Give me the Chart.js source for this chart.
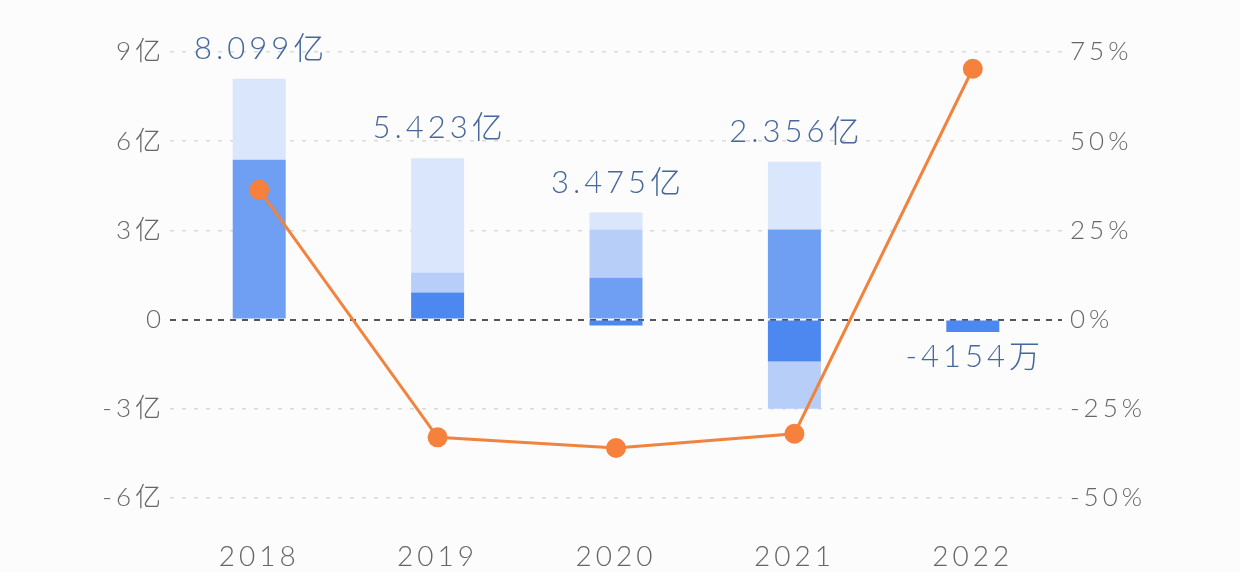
<!DOCTYPE html>
<html>
<head>
<meta charset="utf-8">
<script src="https://cdn.jsdelivr.net/npm/chart.js@4/dist/chart.umd.min.js"></script>
<style>
  html, body { margin: 0; padding: 0; background: #fcfcfd; }
  #wrap { width: 1240px; height: 572px; }
</style>
</head>
<body>
<div id="wrap"><canvas id="chart" width="1240" height="572"></canvas></div>
<script>
// 年份
const years = ["2018", "2019", "2020", "2021", "2022"];

// 各层柱段 [下沿, 上沿]，单位：亿
const paleSeg = [[5.38, 8.099], [1.58, 5.423], [3.03, 3.6], [3.03, 5.31], null];
const softSeg = [null, [0.91, 1.58], [1.41, 3.03], [-3.0, -1.41], null];
const midSeg  = [[0, 5.38], null, [0, 1.41], [0, 3.03], null];
const deepSeg = [null, [0, 0.91], [-0.2, 0], [-1.41, 0], [-0.4154, 0]];

// 同比增速（%），右轴
const growthPct = [36.4, -33.0, -36.0, -32.0, 70.3];

// 柱顶数值标签
const valueLabels = ["8.099亿", "5.423亿", "3.475亿", "2.356亿", "-4154万"];
const labelAt     = [8.099, 5.423, 3.6, 5.31, -0.4154];

const FONT = "Lato, Roboto, 'Noto Sans CJK SC', sans-serif";

// 数值标签插件
const valueLabelPlugin = {
  id: "valueLabels",
  afterDatasetsDraw(chart) {
    const ctx = chart.ctx;
    const xs = chart.scales.x;
    const ys = chart.scales.y;
    ctx.save();
    ctx.letterSpacing = "4px";
    ctx.font = "300 31px " + FONT;
    ctx.fillStyle = "#46679c";
    ctx.textAlign = "center";
    ctx.textBaseline = "middle";
    valueLabels.forEach((txt, i) => {
      const x = xs.getPixelForValue(i) + 2;
      const v = labelAt[i];
      const y = ys.getPixelForValue(v) + (v < 0 ? 25 : -30);
      ctx.fillText(txt, x, y);
    });
    ctx.restore();
  }
};

// 字距（参考图字体较宽）
const spacingPlugin = {
  id: "spacing",
  beforeDraw(chart) { chart.ctx.letterSpacing = "4px"; }
};

function barSet(data, color) {
  return {
    type: "bar",
    data,
    backgroundColor: color,
    borderWidth: 0,
    grouped: false,
    categoryPercentage: 1,
    barPercentage: 0.297,
    yAxisID: "y",
    order: 2
  };
}

new Chart(document.getElementById("chart").getContext("2d"), {
  data: {
    labels: years,
    datasets: [
      {
        type: "line",
        data: growthPct,
        yAxisID: "y1",
        borderColor: "#f0843f",
        borderWidth: 3,
        pointRadius: 10,
        pointBackgroundColor: "#f5813c",
        pointBorderWidth: 0,
        tension: 0,
        order: 0
      },
      barSet(deepSeg, "#4d88f0"),
      barSet(midSeg,  "#6e9ff2"),
      barSet(softSeg, "#b6cef8"),
      barSet(paleSeg, "#d9e6fb")
    ]
  },
  options: {
    responsive: false,
    animation: false,
    layout: { padding: { top: 52, left: 0, right: 0, bottom: 0 } },
    plugins: { legend: { display: false }, tooltip: { enabled: false } },
    scales: {
      x: {
        grid: { display: false, drawTicks: false },
        border: { display: false },
        ticks: { color: "#666", font: { family: FONT, size: 28, weight: 300 }, padding: 42 },
        afterFit: s => { s.height = 74; }
      },
      y: {
        position: "left",
        min: -6, max: 9,
        ticks: {
          stepSize: 3,
          color: "#666",
          padding: 5,
          font: { family: FONT, size: 26, weight: 300 },
          callback: v => v === 0 ? "0" : v + "亿"
        },
        grid: {
          drawTicks: false,
          color: c => c.tick && c.tick.value === 0 ? "#555" : "#d9d9d9",
          lineWidth: c => c.tick && c.tick.value === 0 ? 2 : 1.5
        },
        border: {
          display: false,
          dash: c => c.tick && c.tick.value === 0 ? [6, 6] : [4, 8]
        },
        afterFit: s => { s.width = 170; }
      },
      y1: {
        position: "right",
        min: -50, max: 75,
        ticks: {
          stepSize: 25,
          color: "#666",
          padding: 8,
          font: { family: FONT, size: 26, weight: 300 },
          callback: v => v + "%"
        },
        grid: { drawOnChartArea: false, drawTicks: false },
        border: { display: false },
        afterFit: s => { s.width = 178; }
      }
    }
  },
  plugins: [spacingPlugin, valueLabelPlugin]
});
</script>
</body>
</html>
